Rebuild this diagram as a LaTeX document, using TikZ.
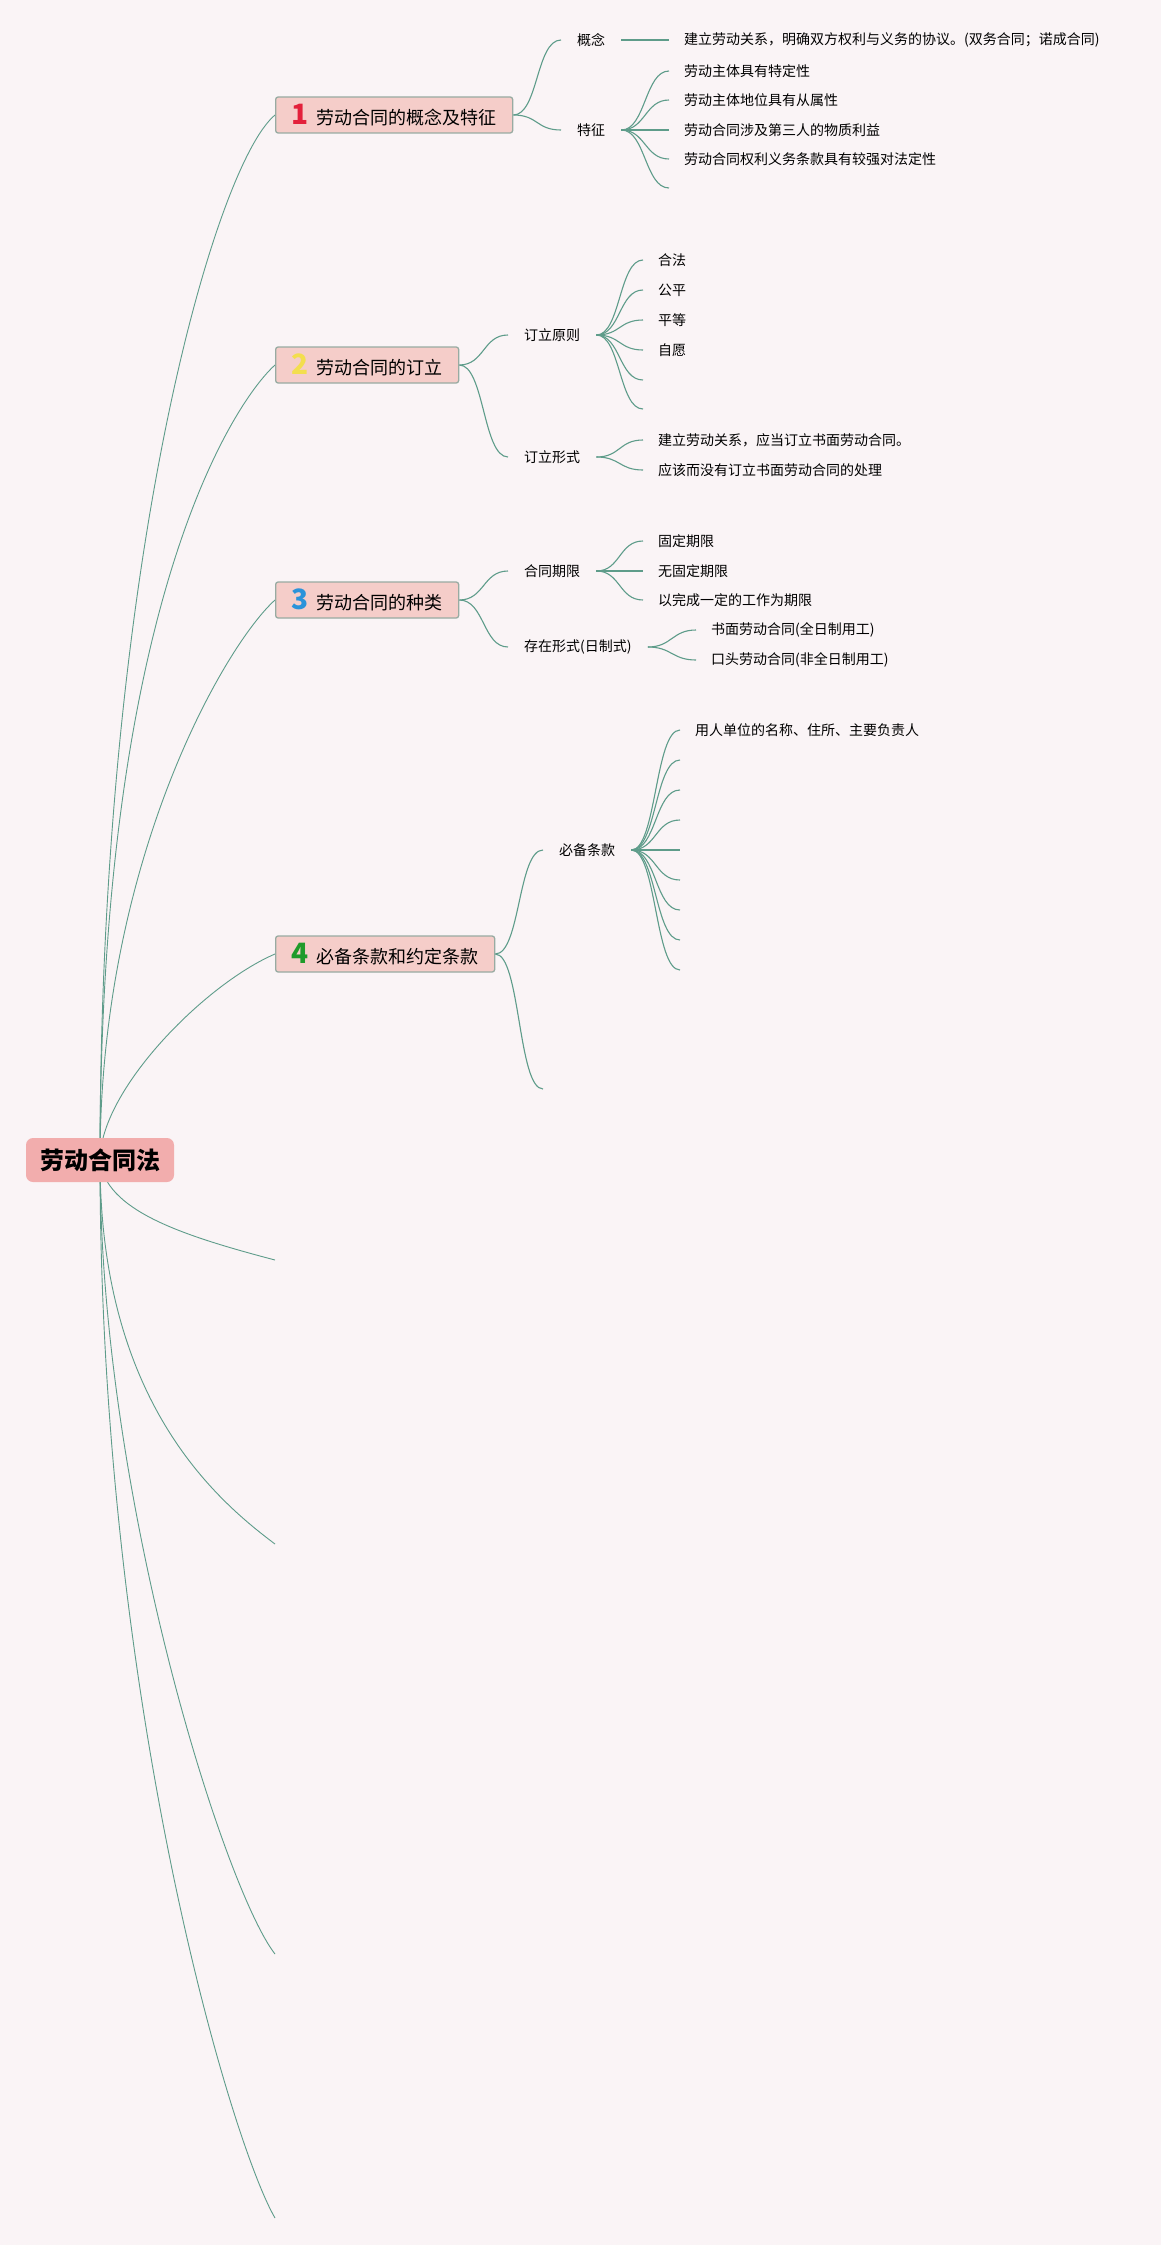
\documentclass[tikz,border=0pt]{standalone}
\usepackage{fontspec}
\setmainfont{Noto Sans CJK SC}
\usetikzlibrary{backgrounds}
\definecolor{bg}{HTML}{FAF4F6}
\definecolor{ln}{HTML}{5E9C8A}
\definecolor{nfill}{HTML}{F5CDC9}
\definecolor{nbord}{HTML}{98ABA2}
\definecolor{rfill}{HTML}{F2ADAD}
\definecolor{cred}{HTML}{E3213B}
\definecolor{cyel}{HTML}{F3DE4E}
\definecolor{cblu}{HTML}{2B93DA}
\definecolor{cgrn}{HTML}{1F9B2A}
\newcommand\topicnum[2]{\makebox[25pt][l]{\fontsize{28}{28}\selectfont\bfseries\color{#1}#2}}
\begin{document}
\begin{tikzpicture}[x=1pt,y=-1pt,
  rootbox/.style={fill=rfill, rounded corners=7pt, minimum width=148pt, minimum height=44pt, inner sep=0pt, font=\fontsize{24}{28}\selectfont\bfseries},
  topicbox/.style={fill=nfill, draw=nbord, line width=1.3pt, rounded corners=2.5pt, minimum height=36pt, inner sep=0pt, anchor=west, font=\fontsize{18}{22}\selectfont},
  subtopic/.style={anchor=west, inner xsep=16pt, inner ysep=3pt, font=\fontsize{14}{17}\selectfont},
  leaf/.style={anchor=west, inner xsep=15pt, inner ysep=3pt, font=\fontsize{14}{17}\selectfont},
  trunk/.style={draw=ln, line width=0.9pt},
  branch/.style={draw=ln, line width=1.1pt},
]
\useasboundingbox (0,0) rectangle (1161,2245);
% root
\node[rootbox] (root) at (100,1160) {劳动合同法};
% main topics
\node[topicbox, minimum width=237pt] (t1) at (275,115) {\topicnum{cred}{1}劳动合同的概念及特征};
\node[topicbox, minimum width=183pt] (t2) at (275,365) {\topicnum{cyel}{2}劳动合同的订立};
\node[topicbox, minimum width=183pt] (t3) at (275,600) {\topicnum{cblu}{3}劳动合同的种类};
\node[topicbox, minimum width=219pt] (t4) at (275,954) {\topicnum{cgrn}{4}必备条款和约定条款};
\coordinate (t5) at (275,1260);
\coordinate (t6) at (275,1544);
\coordinate (t7) at (275,1954);
\coordinate (t8) at (275,2218);
% subtopics
\node[subtopic] (s11) at (561,40) {概念};
\node[subtopic] (s12) at (561,130) {特征};
\node[subtopic] (s21) at (508,335) {订立原则};
\node[subtopic] (s22) at (508,457) {订立形式};
\node[subtopic] (s31) at (508,571) {合同期限};
\node[subtopic] (s32) at (508,647) {存在形式(日制式)};
\node[subtopic] (s41) at (543,850) {必备条款};
\coordinate (s42) at (543,1089);
% leaves
\node[leaf] (l10) at (669,40) {建立劳动关系，明确双方权利与义务的协议。(双务合同；诺成合同)};
\node[leaf] (l11) at (669,71) {劳动主体具有特定性};
\node[leaf] (l12) at (669,100) {劳动主体地位具有从属性};
\node[leaf] (l13) at (669,130) {劳动合同涉及第三人的物质利益};
\node[leaf] (l14) at (669,159) {劳动合同权利义务条款具有较强对法定性};
\coordinate (l15) at (669,188);
\node[leaf] (l21) at (643,260) {合法};
\node[leaf] (l22) at (643,290) {公平};
\node[leaf] (l23) at (643,320) {平等};
\node[leaf] (l24) at (643,350) {自愿};
\coordinate (l25) at (643,380);
\coordinate (l26) at (643,409);
\node[leaf] (l27) at (643,440) {建立劳动关系，应当订立书面劳动合同。};
\node[leaf] (l28) at (643,470) {应该而没有订立书面劳动合同的处理};
\node[leaf] (l31) at (643,541) {固定期限};
\node[leaf] (l32) at (643,571) {无固定期限};
\node[leaf] (l33) at (643,600) {以完成一定的工作为期限};
\node[leaf] (l34) at (696,630) {书面劳动合同(全日制用工)};
\node[leaf] (l35) at (696,660) {口头劳动合同(非全日制用工)};
\node[leaf] (l41) at (680,730) {用人单位的名称、住所、主要负责人};
\coordinate (l42) at (680,760);
\coordinate (l43) at (680,790);
\coordinate (l44) at (680,820);
\coordinate (l45) at (680,850);
\coordinate (l46) at (680,880);
\coordinate (l47) at (680,910);
\coordinate (l48) at (680,940);
\coordinate (l49) at (680,970);
\begin{scope}[on background layer]
\fill[bg] (0,0) rectangle (1161,2245);
% trunk
\draw[trunk] (root.center) .. controls +(0,-600) and +(-60,50) .. (t1.west);
\draw[trunk] (root.center) .. controls +(0,-560) and +(-40,36) .. (t2.west);
\draw[trunk] (root.center) .. controls +(0,-300) and +(-50,45) .. (t3.west);
\draw[trunk] (root.center) .. controls +(0,-70) and +(-70,30) .. (t4.west);
\draw[trunk] (root.center) .. controls +(5,50) and +(-95,-25) .. (t5);
\draw[trunk] (root.center) .. controls +(0,240) and +(-60,-45) .. (t6);
\draw[trunk] (root.center) .. controls +(0,340) and +(-50,-64) .. (t7);
\draw[trunk] (root.center) .. controls +(0,540) and +(-45,-78) .. (t8);
% topic -> subtopic
\foreach \a/\b in {t1/s11,t1/s12,t2/s21,t2/s22,t3/s31,t3/s32}
  \draw[branch] (\a.east) .. controls +(25,0) and +(-25,0) .. (\b.west);
\draw[branch] (t4.east) .. controls +(25,0) and +(-25,0) .. (s41.west);
\draw[branch] (t4.east) .. controls +(25,0) and +(-25,0) .. (s42);
% subtopic -> leaves
\draw[branch] (s11.east) -- (l10.west);
\foreach \b in {l11,l12,l13,l14}
  \draw[branch] (s12.east) .. controls +(24,0) and +(-24,0) .. (\b.west);
\draw[branch] (s12.east) .. controls +(24,0) and +(-24,0) .. (l15);
\foreach \b in {l21,l22,l23,l24}
  \draw[branch] (s21.east) .. controls +(24,0) and +(-24,0) .. (\b.west);
\foreach \b in {l25,l26}
  \draw[branch] (s21.east) .. controls +(24,0) and +(-24,0) .. (\b);
\foreach \b in {l27,l28}
  \draw[branch] (s22.east) .. controls +(24,0) and +(-24,0) .. (\b.west);
\foreach \b in {l31,l32,l33}
  \draw[branch] (s31.east) .. controls +(24,0) and +(-24,0) .. (\b.west);
\foreach \b in {l34,l35}
  \draw[branch] (s32.east) .. controls +(24,0) and +(-24,0) .. (\b.west);
\draw[branch] (s41.east) .. controls +(25,0) and +(-25,0) .. (l41.west);
\foreach \b in {l42,l43,l44,l45,l46,l47,l48,l49}
  \draw[branch] (s41.east) .. controls +(25,0) and +(-25,0) .. (\b);
\end{scope}
\end{tikzpicture}
\end{document}
